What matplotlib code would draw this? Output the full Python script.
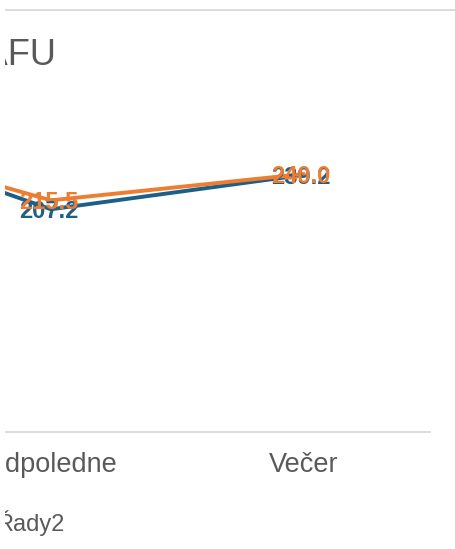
import matplotlib
matplotlib.use("Agg")
import matplotlib.pyplot as plt
from matplotlib.lines import Line2D
from matplotlib.patches import Rectangle

plt.rcParams['font.family'] = ['Liberation Sans', 'DejaVu Sans']

# Data
categories = ["Dopoledne", "Odpoledne", "Večer"]
rady1 = [290.0, 207.2, 239.2]
rady2 = [282.0, 215.5, 240.0]
series_names = ["Řady1", "Řady2"]
title = "Průměr AFU"

W, H, DPI = 455, 549, 100
blue = "#1d5f87"
orange = "#ed7d31"
grey_txt = "#595959"
grey_line = "#d9d9d9"

fig = plt.figure(figsize=(W / DPI, H / DPI), dpi=DPI)

# axes placed in pixel terms (the chart is cropped on the left)
ax_left, ax_right = -328, 430
ax_bottom, ax_top = 432, 109.5
ax = fig.add_axes([ax_left / W, (H - ax_bottom) / H,
                   (ax_right - ax_left) / W, (ax_bottom - ax_top) / H])

x = list(range(len(categories)))
ax.plot(x, rady1, color=blue, lw=2.8, solid_capstyle='round', label=series_names[0])
ax.plot(x, rady2, color=orange, lw=2.8, solid_capstyle='round', label=series_names[1])

for xi, v in zip(x, rady1):
    ax.text(xi - 0.01, v, f"{v:.1f}", color=blue, fontsize=17, fontweight='bold',
            ha='center', va='center_baseline')
for xi, v in zip(x, rady2):
    ax.text(xi - 0.01, v, f"{v:.1f}", color=orange, fontsize=17, fontweight='bold',
            ha='center', va='center_baseline')

ax.set_xlim(-0.5, len(categories) - 0.5)
ax.set_ylim(0, 300)
ax.set_xticks(x)
ax.set_xticklabels(categories, fontsize=19.5, color=grey_txt)
ax.tick_params(axis='x', length=0, pad=14.5)
ax.set_yticks([])
for s in ['top', 'left', 'right']:
    ax.spines[s].set_visible(False)
ax.spines['bottom'].set_color(grey_line)
ax.spines['bottom'].set_linewidth(1.3)

# title
fig.text(56 / W, (H - 65) / H, title, fontsize=26, color=grey_txt,
         ha='right', va='baseline')

# legend
handles = [Line2D([], [], color=blue, lw=2.8), Line2D([], [], color=orange, lw=2.8)]
fig.legend(handles, series_names, loc='center right', ncol=2, frameon=False,
           fontsize=17, labelcolor=grey_txt, borderaxespad=0, borderpad=0,
           bbox_to_anchor=(64 / W, (H - 523) / H))

# chart border top edge
fig.add_artist(Line2D([5 / W, 1], [(H - 9.5) / H] * 2, color=grey_line, lw=1.3))
# left edge of crop is blank
fig.add_artist(Rectangle((0, 0), 5 / W, 1, facecolor='white', edgecolor='none',
                         zorder=50))

fig.savefig("out.png", dpi=DPI)
